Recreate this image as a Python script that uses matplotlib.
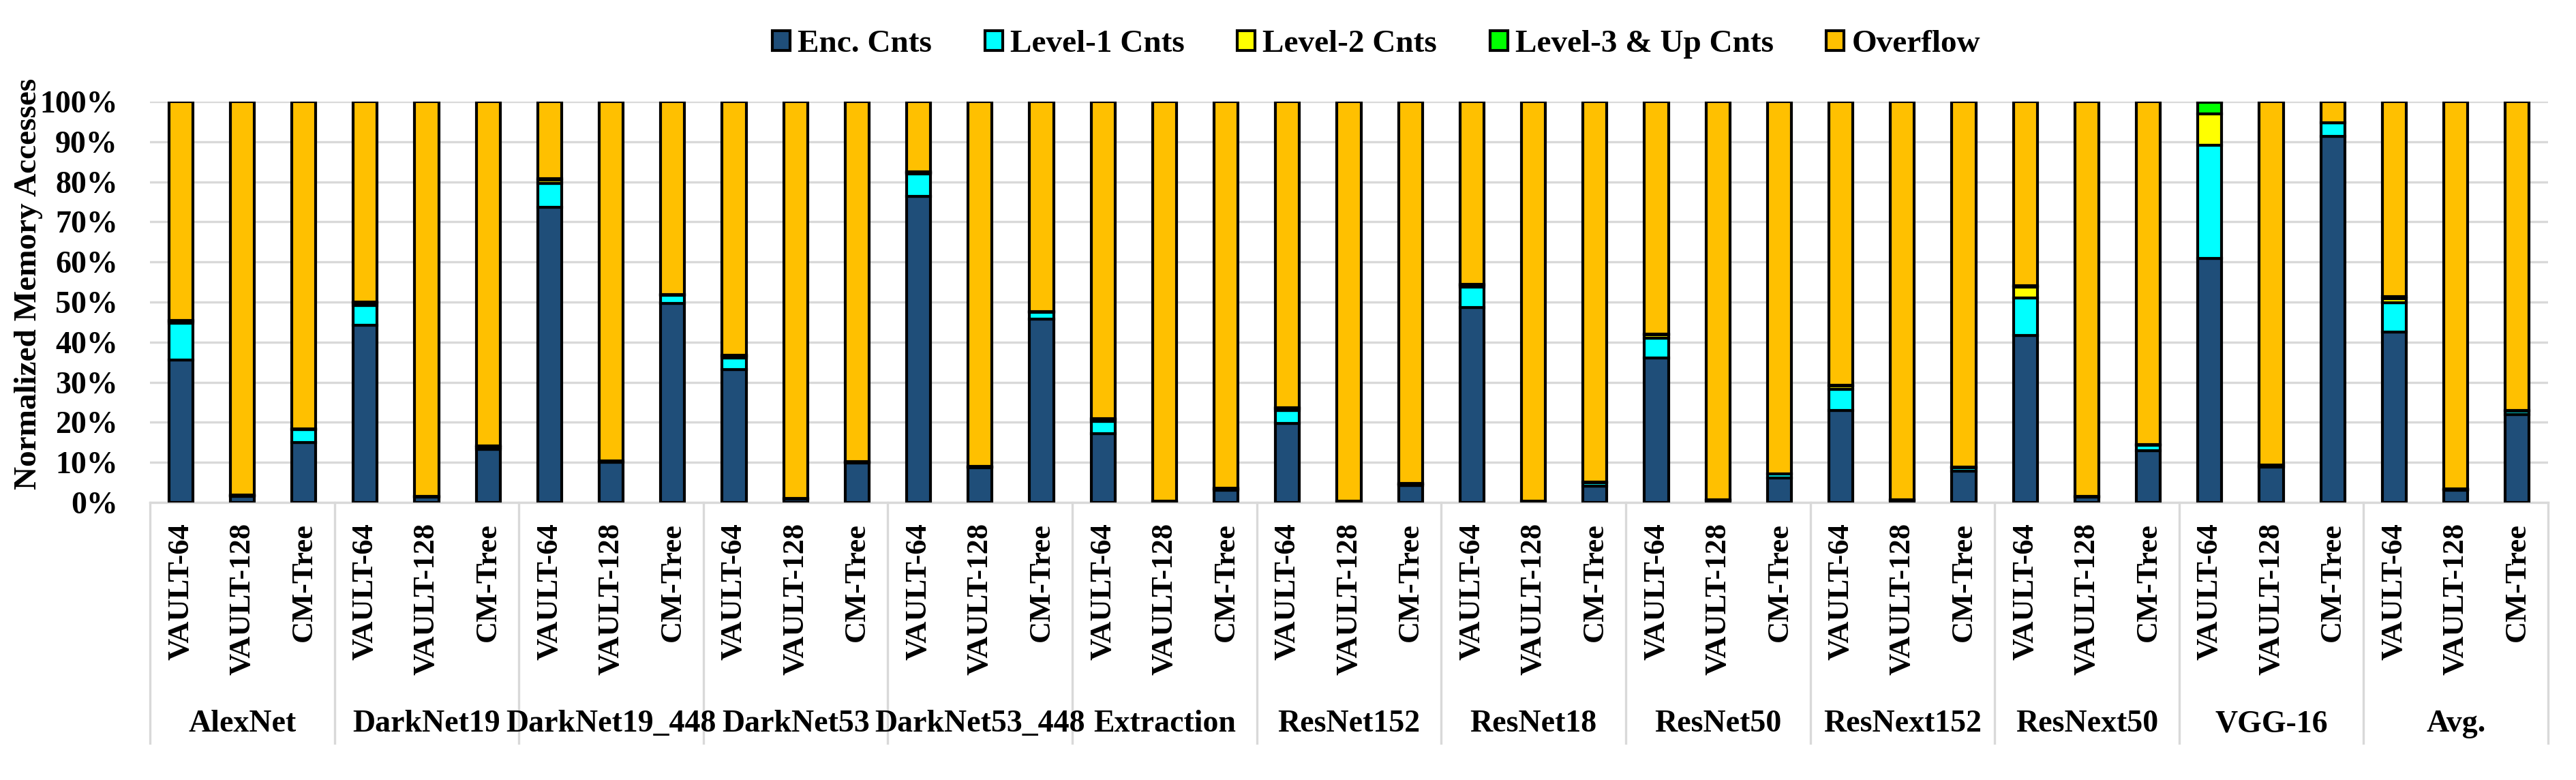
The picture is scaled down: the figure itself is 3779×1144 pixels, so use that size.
import numpy as np
import matplotlib
matplotlib.use("Agg")
import matplotlib.pyplot as plt
import matplotlib.transforms as mtransforms

plt.rcParams['font.family'] = ['Liberation Serif', 'DejaVu Serif']
plt.rcParams['font.weight'] = 'bold'

groups = ['AlexNet', 'DarkNet19', 'DarkNet19_448', 'DarkNet53', 'DarkNet53_448',
          'Extraction', 'ResNet152', 'ResNet18', 'ResNet50', 'ResNext152',
          'ResNext50', 'VGG-16', 'Avg.']
configs = ['VAULT-64', 'VAULT-128', 'CM-Tree']

# values in percent, order: per group -> VAULT-64, VAULT-128, CM-Tree
enc_cnts = [35.6, 1.5, 15.0,
            44.3, 1.3, 13.3,
            73.6, 10.0, 49.7,
            33.2, 0.9, 9.8,
            76.3, 8.6, 45.8,
            17.2, 0.2, 3.1,
            19.8, 0.3, 4.3,
            48.6, 0.3, 4.1,
            36.1, 0.5, 6.1,
            23.0, 0.5, 7.8,
            41.6, 1.3, 13.0,
            60.9, 8.9, 91.4,
            42.5, 3.1, 21.9]
level1_cnts = [9.2, 0.2, 3.2,
               4.9, 0.2, 0.5,
               6.0, 0.3, 2.0,
               2.9, 0.2, 0.3,
               5.6, 0.3, 1.7,
               3.0, 0.1, 0.3,
               3.1, 0.1, 0.3,
               5.1, 0.1, 0.9,
               4.9, 0.1, 1.0,
               5.3, 0.1, 0.8,
               9.5, 0.3, 1.3,
               28.3, 0.4, 3.4,
               7.4, 0.2, 0.9]
level2_cnts = [0.4, 0.1, 0.1,
               0.6, 0.1, 0.3,
               0.8, 0.1, 0.1,
               0.5, 0.0, 0.1,
               0.4, 0.1, 0.1,
               0.6, 0.0, 0.1,
               0.5, 0.0, 0.1,
               0.6, 0.0, 0.1,
               0.8, 0.0, 0.1,
               0.7, 0.0, 0.2,
               2.6, 0.0, 0.2,
               7.8, 0.1, 0.0,
               1.0, 0.05, 0.2]
level3_cnts = [0.2, 0.0, 0.0,
               0.2, 0.0, 0.1,
               0.4, 0.0, 0.0,
               0.2, 0.0, 0.0,
               0.2, 0.0, 0.0,
               0.2, 0.0, 0.0,
               0.2, 0.0, 0.0,
               0.2, 0.0, 0.0,
               0.2, 0.0, 0.0,
               0.3, 0.0, 0.0,
               0.3, 0.0, 0.0,
               2.8, 0.0, 0.0,
               0.5, 0.0, 0.0]
overflow = [54.6, 98.2, 81.7,
            50.0, 98.4, 85.8,
            19.2, 89.6, 48.2,
            63.2, 98.9, 89.8,
            17.5, 91.0, 52.4,
            79.0, 99.7, 96.5,
            76.4, 99.6, 95.3,
            45.5, 99.6, 94.9,
            58.0, 99.4, 92.8,
            70.7, 99.4, 91.2,
            46.0, 98.4, 85.5,
            0.2, 90.6, 5.2,
            48.6, 96.65, 77.0]

series = [('Enc. Cnts', enc_cnts, '#1F4E79'),
          ('Level-1 Cnts', level1_cnts, '#00FFFF'),
          ('Level-2 Cnts', level2_cnts, '#FFFF00'),
          ('Level-3 & Up Cnts', level3_cnts, '#00FF00'),
          ('Overflow', overflow, '#FFC000')]

W, H = 3779, 1144
fig = plt.figure(figsize=(W / 100, H / 100), dpi=100)
ax_l, ax_r, ax_t, ax_b = 220, 3738, 149, 737
ax = fig.add_axes([ax_l / W, 1 - ax_b / H, (ax_r - ax_l) / W, (ax_b - ax_t) / H])

n = len(groups) * len(configs)
x = np.arange(n)
bottom = np.zeros(n)
handles = []
for name, vals, col in series:
    v = np.array(vals, dtype=float)
    b = ax.bar(x, v, width=0.39, bottom=bottom, color=col, edgecolor='black',
               linewidth=3.0, label=name, zorder=3)
    handles.append(b)
    bottom += v

ax.set_xlim(-0.5, n - 0.5)
ax.set_ylim(0, 100)
grid_col = '#D9D9D9'
for s in ['top', 'right', 'left']:
    ax.spines[s].set_visible(False)
ax.spines['bottom'].set_color(grid_col)
ax.spines['bottom'].set_linewidth(2.4)
ax.yaxis.grid(True, color=grid_col, linewidth=2.4, zorder=0)
ax.set_axisbelow(True)

ax.set_yticks(np.arange(0, 101, 10))
ax.set_yticklabels([f'{v}%' for v in range(0, 101, 10)], fontsize=33, fontweight='bold')
ax.tick_params(axis='y', length=0, pad=34)

ax.set_xticks(x)
ax.set_xticklabels(configs * len(groups), rotation=90, fontsize=32, fontweight='bold')
ax.tick_params(axis='x', length=0, pad=21.6)

trans = mtransforms.blended_transform_factory(ax.transData, ax.transAxes)
sep_bottom = (ax_b - 1090) / (ax_b - ax_t)
for k in range(len(groups) + 1):
    ax.plot([3 * k - 0.5] * 2, [0, sep_bottom], transform=trans, color=grid_col,
            linewidth=2.4, clip_on=False, zorder=1)
grp_y = (ax_b - 1062) / (ax_b - ax_t)
for g, name in enumerate(groups):
    ax.text(3 * g + 1, grp_y, name, transform=trans, ha='center', va='center',
            fontsize=33, fontweight='bold')

ax.set_ylabel('Normalized Memory Accesses', fontsize=34, fontweight='bold')
ax.yaxis.set_label_coords((42 - ax_l) / (ax_r - ax_l), (ax_b - 416) / (ax_b - ax_t))
ax.yaxis.label.set_va('center')

fig.legend(handles=handles, labels=[s[0] for s in series], loc='center',
           bbox_to_anchor=(2019 / W, 1 - 65 / H), ncol=5, frameon=False,
           prop={'family': 'Liberation Serif', 'weight': 'bold', 'size': 34},
           handlelength=0.55, handleheight=0.58, handletextpad=0.23,
           columnspacing=1.65, borderaxespad=0)

fig.savefig('out.png', dpi=100)
